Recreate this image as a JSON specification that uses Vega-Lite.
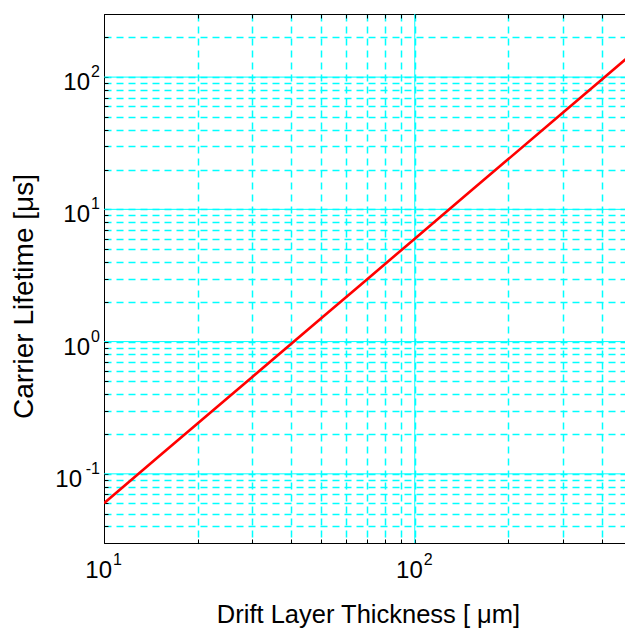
{
  "$schema": "https://vega.github.io/schema/vega-lite/v6.json",
  "width": 528,
  "height": 529,
  "autosize": "none",
  "padding": {"left": 104, "top": 14, "right": 0, "bottom": 85},
  "background": "white",
  "config": {
    "font": "Liberation Sans",
    "view": {"stroke": "#000000", "strokeWidth": 1},
    "text": {"font": "Liberation Sans", "color": "#000000"},
    "axis": {
      "domainColor": "#000000",
      "tickColor": "#000000",
      "tickSize": -4,
      "titleColor": "#000000",
      "titleFont": "Liberation Sans",
      "titleFontWeight": "normal",
      "labels": false,
      "gridColor": "#00ffff",
      "gridWidth": 1.5,
      "gridOpacity": 1
    }
  },
  "data": {
    "values": [
      {"thickness": 10, "lifetime": 0.06},
      {"thickness": 15, "lifetime": 0.135},
      {"thickness": 20, "lifetime": 0.24},
      {"thickness": 30, "lifetime": 0.54},
      {"thickness": 50, "lifetime": 1.5},
      {"thickness": 70, "lifetime": 2.94},
      {"thickness": 100, "lifetime": 6.0},
      {"thickness": 150, "lifetime": 13.5},
      {"thickness": 200, "lifetime": 24.0},
      {"thickness": 300, "lifetime": 54.0},
      {"thickness": 400, "lifetime": 96.0},
      {"thickness": 500, "lifetime": 150.0}
    ]
  },
  "layer": [
    {
      "data": {"values": [{"g": 100}]},
      "mark": {"type": "rule", "color": "#00ffff", "strokeWidth": 1},
      "encoding": {
        "x": {"field": "g", "type": "quantitative", "scale": {"type": "log", "domain": [10, 500], "nice": false}, "axis": null}
      }
    },
    {
      "data": {"values": [{"g": 0.1}, {"g": 1}, {"g": 10}, {"g": 100}]},
      "mark": {"type": "rule", "color": "#00ffff", "strokeWidth": 1},
      "encoding": {
        "y": {"field": "g", "type": "quantitative", "scale": {"type": "log", "domain": [0.03, 300], "nice": false}, "axis": null}
      }
    },
    {
      "mark": {"type": "line", "color": "#ff0000", "strokeWidth": 2.6, "clip": true},
      "encoding": {
        "x": {
          "field": "thickness",
          "type": "quantitative",
          "scale": {"type": "log", "domain": [10, 500], "nice": false},
          "axis": {
            "orient": "bottom",
            "title": "Drift Layer Thickness [ μm]",
            "titleFontSize": 25.5,
            "titlePadding": 59,
            "values": [20, 30, 40, 50, 60, 70, 80, 90, 100, 200, 300, 400, 500],
            "grid": true,
            "gridColor": "#00ffff",
            "gridDash": [7, 5]
          }
        },
        "y": {
          "field": "lifetime",
          "type": "quantitative",
          "scale": {"type": "log", "domain": [0.03, 300], "nice": false},
          "axis": {
            "orient": "left",
            "title": "Carrier Lifetime [μs]",
            "titleFontSize": 28,
            "titlePadding": 65,
            "titleY": 282,
            "values": [0.04, 0.05, 0.06, 0.07, 0.08, 0.09, 0.1, 0.2, 0.3, 0.4, 0.5, 0.6, 0.7, 0.8, 0.9, 1, 2, 3, 4, 5, 6, 7, 8, 9, 10, 20, 30, 40, 50, 60, 70, 80, 90, 100, 200],
            "grid": true,
            "gridColor": "#00ffff",
            "gridDash": [7, 5]
          }
        }
      }
    },
    {
      "mark": {"type": "point", "opacity": 0},
      "encoding": {
        "x": {
          "field": "thickness",
          "type": "quantitative",
          "axis": {
            "orient": "top",
            "title": null,
            "grid": false,
            "values": [20, 30, 40, 50, 60, 70, 80, 90, 100, 200, 300, 400, 500]
          }
        }
      }
    },
    {
      "data": {"values": [{"tick": 10, "exp": "1"}, {"tick": 100, "exp": "2"}]},
      "layer": [
        {
          "mark": {"type": "text", "text": "10", "fontSize": 24, "align": "right", "baseline": "alphabetic", "dx": 8, "dy": 35},
          "encoding": {
            "x": {"field": "tick", "type": "quantitative", "axis": null},
            "y": {"datum": 0.03, "type": "quantitative", "axis": null}
          }
        },
        {
          "mark": {"type": "text", "fontSize": 16, "align": "left", "baseline": "alphabetic", "dx": 9, "dy": 22},
          "encoding": {
            "x": {"field": "tick", "type": "quantitative", "axis": null},
            "y": {"datum": 0.03, "type": "quantitative", "axis": null},
            "text": {"field": "exp"}
          }
        }
      ]
    },
    {
      "data": {"values": [{"tick": 0.1, "exp": "-1"}, {"tick": 1, "exp": "0"}, {"tick": 10, "exp": "1"}, {"tick": 100, "exp": "2"}]},
      "layer": [
        {
          "transform": [{"filter": "datum.tick != 0.1"}],
          "mark": {"type": "text", "text": "10", "fontSize": 24, "align": "right", "baseline": "alphabetic", "dx": -14, "dy": 13},
          "encoding": {
            "x": {"datum": 10, "type": "quantitative", "axis": null},
            "y": {"field": "tick", "type": "quantitative", "axis": null}
          }
        },
        {
          "transform": [{"filter": "datum.tick == 0.1"}],
          "mark": {"type": "text", "text": "10", "fontSize": 24, "align": "right", "baseline": "alphabetic", "dx": -22, "dy": 13},
          "encoding": {
            "x": {"datum": 10, "type": "quantitative", "axis": null},
            "y": {"field": "tick", "type": "quantitative", "axis": null}
          }
        },
        {
          "mark": {"type": "text", "fontSize": 16, "align": "right", "baseline": "alphabetic", "dx": -4, "dy": 0},
          "encoding": {
            "x": {"datum": 10, "type": "quantitative", "axis": null},
            "y": {"field": "tick", "type": "quantitative", "axis": null},
            "text": {"field": "exp"}
          }
        }
      ]
    }
  ],
  "resolve": {"axis": {"x": "independent", "y": "independent"}}
}
